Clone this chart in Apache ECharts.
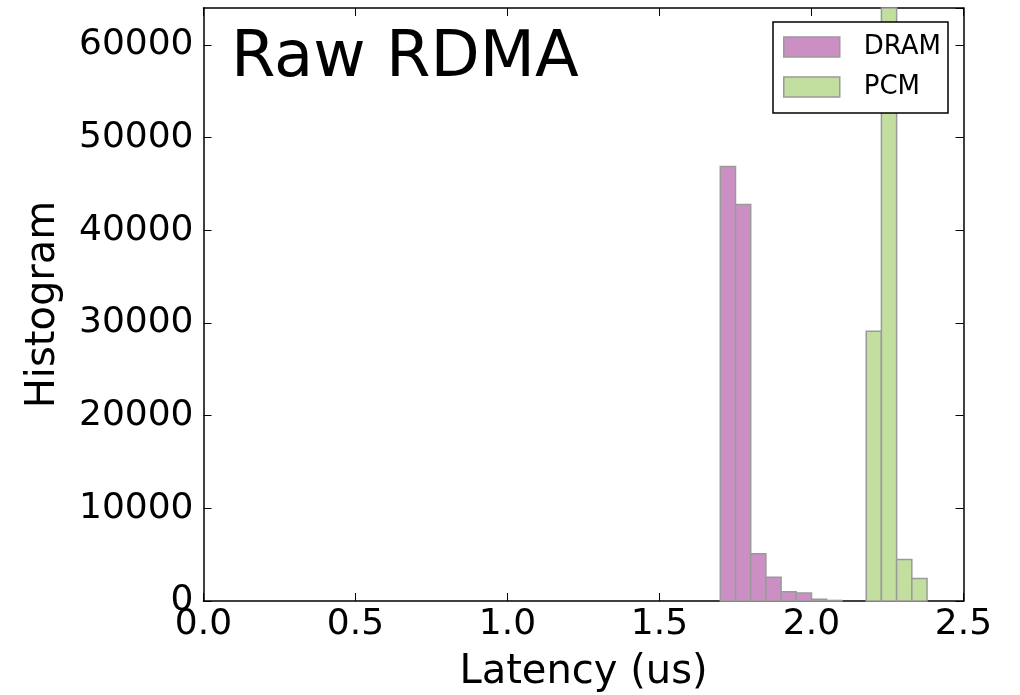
<!DOCTYPE html>
<html>
<head>
<meta charset="utf-8">
<script src="https://cdn.jsdelivr.net/npm/echarts@6/dist/echarts.min.js"></script>
<style>
  html, body { margin: 0; padding: 0; background: #fff; }
  #main { width: 1020px; height: 695px; }
</style>
</head>
<body>
<div id="main"></div>
<script>
  // bin edges and counts
  var dramEdges = [1.70, 1.75, 1.80, 1.85, 1.90, 1.95, 2.00, 2.05, 2.10];
  var dramCounts = [46900, 42800, 5100, 2550, 1000, 850, 200, 60];
  var pcmEdges = [2.18, 2.23, 2.28, 2.33, 2.38];
  var pcmCounts = [29100, 68000, 4480, 2440];
  var xTicks = [0, 0.5, 1.0, 1.5, 2.0, 2.5];
  var yTicks = [0, 10000, 20000, 30000, 40000, 50000, 60000];

  function toBins(edges, counts) {
    var out = [];
    for (let i = 0; i < counts.length; i++) {
      out.push([edges[i], edges[i + 1], counts[i]]);
    }
    return out;
  }

  function renderBin(params, api) {
    var p0 = api.coord([api.value(0), api.value(2)]);
    var p1 = api.coord([api.value(1), 0]);
    var shape = echarts.graphic.clipRectByRect({
      x: p0[0], y: p0[1], width: p1[0] - p0[0], height: p1[1] - p0[1]
    }, {
      x: params.coordSys.x, y: params.coordSys.y,
      width: params.coordSys.width, height: params.coordSys.height
    });
    return shape && {
      type: 'rect',
      shape: shape,
      style: { fill: api.visual('color'), stroke: '#9a9a9a', lineWidth: 1.5 }
    };
  }

  var font = 'DejaVu Sans';
  var tickStyle = { inside: true, length: 8, lineStyle: { color: '#000' } };
  var chart = echarts.init(document.getElementById('main'));
  var option = {
    animation: false,
    title: {
      text: 'Raw RDMA',
      left: 226,
      top: 22,
      textStyle: { fontFamily: font, fontSize: 64, fontWeight: 'normal', color: '#000' }
    },
    legend: {
      orient: 'vertical',
      left: 773,
      top: 22,
      padding: [12, 7, 13, 10],
      itemGap: 14,
      itemWidth: 56,
      itemHeight: 20,
      borderColor: '#000',
      borderWidth: 1.5,
      backgroundColor: '#fff',
      icon: 'rect',
      itemStyle: { borderColor: '#9a9a9a', borderWidth: 1.5 },
      textStyle: { fontFamily: font, fontSize: 26, color: '#000', padding: [0, 0, 0, 19] },
      data: ['DRAM', 'PCM']
    },
    grid: { left: 203.5, right: 56.5, top: 8, bottom: 94, outerBoundsMode: 'none' },
    xAxis: [{
      type: 'value',
      min: 0, max: 2.5, interval: 0.5,
      name: 'Latency (us)',
      nameLocation: 'middle',
      nameGap: 52,
      nameTextStyle: { fontFamily: font, fontSize: 40, color: '#000' },
      axisLine: { onZero: false, lineStyle: { color: '#000', width: 1.5 } },
      axisTick: tickStyle,
      axisLabel: {
        fontFamily: font, fontSize: 36, color: '#000', margin: 6,
        formatter: function (v) { return xTicks.indexOf(v) >= 0 ? v.toFixed(1) : ''; }
      },
      splitLine: { show: false }
    }, {
      // top frame edge
      type: 'value', position: 'top',
      min: 0, max: 2.5, interval: 0.5,
      axisLine: { onZero: false, lineStyle: { color: '#000', width: 1.5 } },
      axisTick: tickStyle,
      axisLabel: { show: false },
      splitLine: { show: false }
    }],
    yAxis: [{
      type: 'value',
      min: 0, max: 64000, interval: 10000,
      name: 'Histogram',
      nameLocation: 'middle',
      nameRotate: 90,
      nameGap: 140,
      nameTextStyle: { fontFamily: font, fontSize: 40, color: '#000' },
      axisLine: { show: true, onZero: false, lineStyle: { color: '#000', width: 1.5 } },
      axisTick: tickStyle,
      axisLabel: {
        fontFamily: font, fontSize: 36, color: '#000', margin: 10,
        showMaxLabel: false,
        formatter: function (v) { return yTicks.indexOf(v) >= 0 ? String(v) : ''; }
      },
      splitLine: { show: false }
    }, {
      // right frame edge
      type: 'value', position: 'right',
      min: 0, max: 64000, interval: 10000,
      axisLine: { show: true, onZero: false, lineStyle: { color: '#000', width: 1.5 } },
      axisTick: tickStyle,
      axisLabel: { show: false },
      splitLine: { show: false }
    }],
    series: [{
      name: 'DRAM',
      type: 'custom',
      renderItem: renderBin,
      itemStyle: { color: '#cc8fc4' },
      encode: { x: [0, 1], y: 2 },
      data: toBins(dramEdges, dramCounts)
    }, {
      name: 'PCM',
      type: 'custom',
      renderItem: renderBin,
      itemStyle: { color: '#c2df9f' },
      encode: { x: [0, 1], y: 2 },
      data: toBins(pcmEdges, pcmCounts)
    }]
  };
  chart.setOption(option);
</script>
</body>
</html>
